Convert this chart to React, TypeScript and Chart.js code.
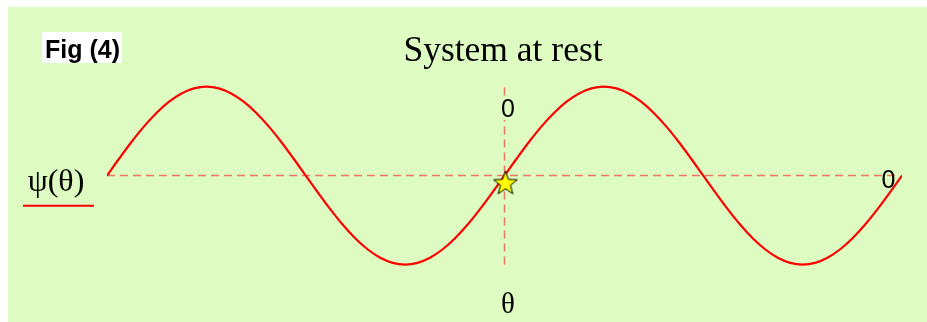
import React, { useEffect, useRef } from "react";
import { Chart, registerables } from "chart.js";

Chart.register(...registerables);

// theta in degrees, psi(theta) values
const thetaDeg = [
  0, 11.25, 22.5, 33.75, 45, 56.25, 67.5, 78.75, 90, 101.25, 112.5, 123.75, 135, 146.25, 157.5, 168.75,
  180, 191.25, 202.5, 213.75, 225, 236.25, 247.5, 258.75, 270, 281.25, 292.5, 303.75, 315, 326.25, 337.5, 348.75,
  360, 371.25, 382.5, 393.75, 405, 416.25, 427.5, 438.75, 450, 461.25, 472.5, 483.75, 495, 506.25, 517.5, 528.75,
  540, 551.25, 562.5, 573.75, 585, 596.25, 607.5, 618.75, 630, 641.25, 652.5, 663.75, 675, 686.25, 697.5, 708.75,
  720,
];
const psiValues = [
  0, 0.195, 0.383, 0.556, 0.707, 0.831, 0.924, 0.981, 1, 0.981, 0.924, 0.831, 0.707, 0.556, 0.383, 0.195,
  0, -0.195, -0.383, -0.556, -0.707, -0.831, -0.924, -0.981, -1, -0.981, -0.924, -0.831, -0.707, -0.556, -0.383, -0.195,
  0, 0.195, 0.383, 0.556, 0.707, 0.831, 0.924, 0.981, 1, 0.981, 0.924, 0.831, 0.707, 0.556, 0.383, 0.195,
  0, -0.195, -0.383, -0.556, -0.707, -0.831, -0.924, -0.981, -1, -0.981, -0.924, -0.831, -0.707, -0.556, -0.383, -0.195,
  0,
];
const axisXRange = [0, 715];
const axisYRange = [-1, 1];
const restPoint = { theta: 360, psi: 0 };

const titleText = "System at rest";
const figText = "Fig (4)";
const legendText = "ψ(θ)";
const xAxisLabel = "θ";
const originLabel = "0";

const BG = "#defcc1";
const DASH = "#ef7565";

function makeStar(): HTMLCanvasElement {
  const c = document.createElement("canvas");
  c.width = 32;
  c.height = 48;
  const ctx = c.getContext("2d")!;
  const cx = 17;
  const cy = 32;
  const R = 12.5;
  const r = 5.2;
  ctx.beginPath();
  for (let i = 0; i < 10; i++) {
    const rad = i % 2 === 0 ? R : r;
    const a = -Math.PI / 2 + (i * Math.PI) / 5;
    const px = cx + rad * Math.cos(a);
    const py = cy + rad * Math.sin(a);
    if (i === 0) ctx.moveTo(px, py);
    else ctx.lineTo(px, py);
  }
  ctx.closePath();
  ctx.fillStyle = "#ffff00";
  ctx.fill();
  ctx.lineWidth = 1;
  ctx.strokeStyle = "#000";
  ctx.stroke();
  return c;
}

const textPlugin = {
  id: "texts",
  beforeDraw(chart: any) {
    const { ctx, width, height } = chart;
    ctx.save();
    ctx.fillStyle = BG;
    ctx.fillRect(0, 0, width, height);
    ctx.restore();
  },
  afterDatasetsDraw(chart: any) {
    const { ctx } = chart;
    const xs = chart.scales.x;
    ctx.save();
    // title
    ctx.fillStyle = "#000";
    ctx.font = '35.5px "Liberation Serif"';
    ctx.textAlign = "center";
    ctx.textBaseline = "alphabetic";
    ctx.fillText(titleText, 495, 54);
    // Fig box
    ctx.fillStyle = "#fff";
    ctx.fillRect(34, 25, 80, 31);
    ctx.fillStyle = "#000";
    ctx.font = 'bold 25px "Liberation Sans"';
    ctx.textAlign = "left";
    ctx.fillText(figText, 37, 51);
    // top 0 label with background
    const vx = xs.getPixelForValue(restPoint.theta);
    ctx.fillStyle = BG;
    ctx.fillRect(vx - 6, 90, 16, 23);
    ctx.fillStyle = "#000";
    ctx.font = '25px "Liberation Sans"';
    ctx.textAlign = "center";
    ctx.fillText(originLabel, vx + 3.5, 110);
    // right 0 label
    ctx.fillText(originLabel, 880.5, 181);
    // theta label
    ctx.font = '29px "Liberation Serif"';
    ctx.fillText(xAxisLabel, vx + 3.5, 306);
    // legend
    ctx.font = '32px "Liberation Serif"';
    ctx.fillText(legendText, 48, 184);
    ctx.strokeStyle = "#ff0000";
    ctx.lineWidth = 2;
    ctx.beginPath();
    ctx.moveTo(15, 198.7);
    ctx.lineTo(86, 198.7);
    ctx.stroke();
    ctx.restore();
  },
};

export default function App() {
  const ref = useRef<HTMLCanvasElement>(null);
  useEffect(() => {
    if (!ref.current) return;
    const star = makeStar();
    const curve = thetaDeg.map((t, i) => ({ x: t, y: psiValues[i] }));
    const chart = new Chart(ref.current, {
      type: "line",
      data: {
        datasets: [
          {
            label: "rest",
            data: [{ x: restPoint.theta, y: restPoint.psi }],
            pointStyle: star as any,
            showLine: false,
            pointRadius: 12,
          },
          {
            label: "psi",
            data: curve,
            borderColor: "#ff0000",
            borderWidth: 2.2,
            pointRadius: 0,
            cubicInterpolationMode: "monotone",
            fill: false,
          },
          {
            label: "haxis",
            data: axisXRange.map((x) => ({ x, y: 0 })),
            borderColor: DASH,
            borderWidth: 1.5,
            borderDash: [8, 5],
            pointRadius: 0,
          },
          {
            label: "vaxis",
            data: axisYRange.map((y) => ({ x: restPoint.theta, y })),
            borderColor: DASH,
            borderWidth: 1.5,
            borderDash: [8, 5],
            pointRadius: 0,
          },
        ],
      },
      options: {
        animation: false,
        responsive: false,
        events: [],
        layout: { padding: { left: 99, right: 25, top: 35.2, bottom: 12.8 } },
        plugins: { legend: { display: false }, tooltip: { enabled: false }, title: { display: false } },
        scales: {
          x: { type: "linear", min: 0, max: 720, display: false },
          y: { type: "linear", min: -1.5, max: 1.5, display: false },
        },
      },
      plugins: [textPlugin],
    });
    return () => chart.destroy();
  }, []);
  return (
    <div style={{ position: "fixed", left: 8, top: 7, width: 919, height: 315 }}>
      <canvas ref={ref} width={919} height={315} style={{ display: "block", width: 919, height: 315 }} />
    </div>
  );
}
